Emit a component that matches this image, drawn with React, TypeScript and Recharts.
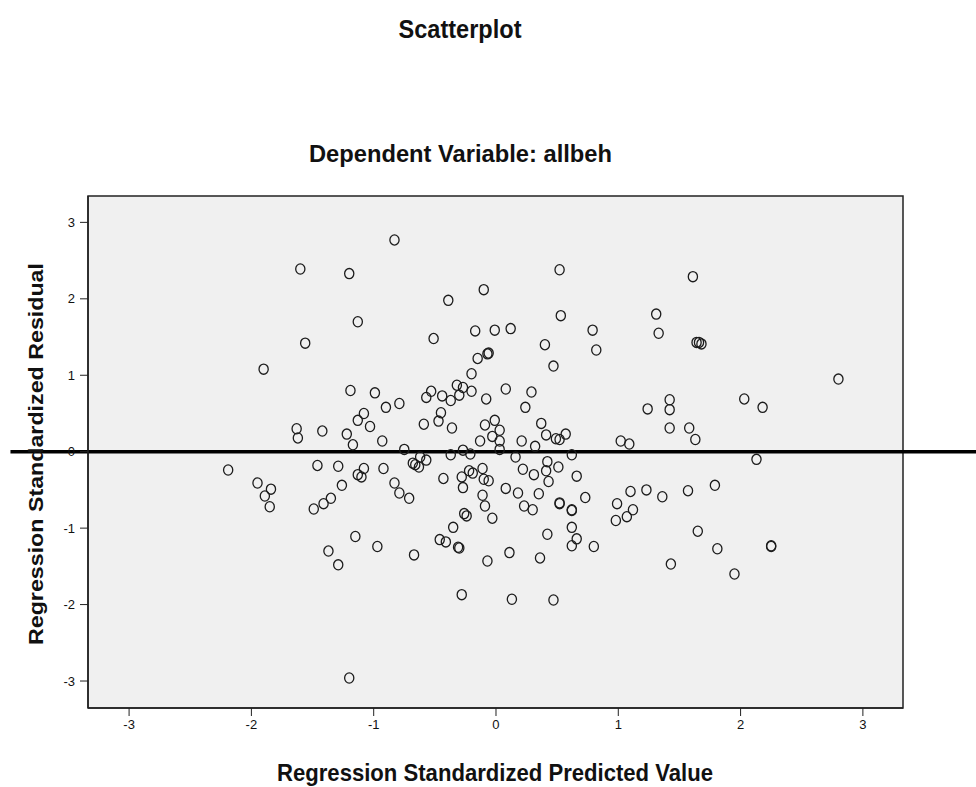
import { ScatterChart, Scatter, XAxis, YAxis, CartesianGrid, ReferenceLine, ReferenceArea } from "recharts"

// regression standardized predicted value (x) and residual (y)
const predicted = [
  -1.6, -1.2, -1.13, -1.56, -1.9, -1.19, -1.08, -1.13, -1.63, -1.62, -1.42, -1.22, -1.17,
  -0.83, 0.52, -0.1, -0.39, 0.53, -0.17, -0.01, 0.12, 0.79, 0.82, -0.51, 0.4, -0.07, -0.06,
  -0.15, 0.47, -0.2, -0.99, -0.79, -0.9, -0.57, -0.53, -0.44, -0.37, -0.32, -0.27, -0.3,
  -0.2, -0.08, 0.08, 0.29, 0.24, -0.45, -0.47, -0.59, -0.36, -1.03, -0.93, -0.75, -0.09,
  -0.01, 0.03, -0.03, 0.03, -0.13, 0.21, 0.37, 0.41, 0.49, 0.52, 0.57, 0.32, 1.02, 1.09,
  1.61, 1.31, 1.33, 1.64, 1.66, 1.68, 2.8, 2.03, 2.18, 1.42, 1.42, 1.24, 1.42, 1.58, 1.63,
  -2.19, -1.95, -1.84, -1.89, -1.85, -1.46, -1.29, -1.13, -1.1, -1.08, -1.26, -1.35, -1.41,
  -1.49, -1.15, -1.37, -1.29, -1.2, -0.62, -0.57, -0.68, -0.63, -0.66, -0.37, -0.27, -0.21,
  0.03, 0.62, 0.16, 0.22, 0.31, 0.42, 0.41, 0.51, 0.43, 0.66, -0.92, -0.83, -0.79, -0.71,
  -0.43, -0.28, -0.27, -0.22, -0.19, -0.11, -0.1, -0.06, -0.11, -0.09, -0.03, 0.08, 0.18,
  0.23, 0.3, 0.35, 0.52, 0.52, 0.62, 0.62, 0.73, 0.62, 0.66, 0.62, 0.8, 0.42, 0.36, 0.11,
  -0.07, -0.26, -0.24, -0.35, -0.46, -0.41, -0.31, -0.3, -0.97, -0.67, -0.28, 0.13, 0.47,
  0.99, 0.98, 1.07, 2.13, 1.1, 1.23, 1.36, 1.57, 1.79, 1.12, 1.65, 1.81, 2.25, 2.25, 1.43,
  1.95,
]
const residual = [
  2.39, 2.33, 1.7, 1.42, 1.08, 0.8, 0.5, 0.41, 0.3, 0.18, 0.27, 0.23, 0.09,
  2.77, 2.38, 2.12, 1.98, 1.78, 1.58, 1.59, 1.61, 1.59, 1.33, 1.48, 1.4, 1.28, 1.29,
  1.22, 1.12, 1.02, 0.77, 0.63, 0.58, 0.71, 0.79, 0.73, 0.67, 0.87, 0.84, 0.74,
  0.79, 0.69, 0.82, 0.78, 0.58, 0.51, 0.4, 0.36, 0.31, 0.33, 0.14, 0.03, 0.35,
  0.41, 0.28, 0.2, 0.14, 0.14, 0.14, 0.37, 0.22, 0.17, 0.16, 0.23, 0.07, 0.14, 0.1,
  2.29, 1.8, 1.55, 1.43, 1.43, 1.41, 0.95, 0.69, 0.58, 0.68, 0.55, 0.56, 0.31, 0.31, 0.16,
  -0.24, -0.41, -0.49, -0.58, -0.72, -0.18, -0.19, -0.3, -0.33, -0.22, -0.44, -0.61, -0.68,
  -0.75, -1.11, -1.3, -1.48, -2.96, -0.07, -0.11, -0.15, -0.2, -0.17, -0.04, 0.02, -0.03,
  0.03, -0.04, -0.07, -0.23, -0.3, -0.13, -0.25, -0.2, -0.39, -0.32, -0.22, -0.41, -0.54, -0.61,
  -0.35, -0.33, -0.47, -0.25, -0.28, -0.22, -0.36, -0.38, -0.57, -0.71, -0.87, -0.48, -0.54,
  -0.71, -0.76, -0.55, -0.67, -0.68, -0.76, -0.77, -0.6, -0.99, -1.14, -1.23, -1.24, -1.08, -1.39, -1.32,
  -1.43, -0.81, -0.84, -0.99, -1.15, -1.18, -1.25, -1.26, -1.24, -1.35, -1.87, -1.93, -1.94,
  -0.68, -0.9, -0.85, -0.1, -0.52, -0.5, -0.59, -0.51, -0.44, -0.76, -1.04, -1.27, -1.23, -1.24, -1.47,
  -1.6,
]
const axisTicks = [-3, -2, -1, 0, 1, 2, 3]
const xDomain = [-3.336, 3.328]
const yDomain = [-3.353, 3.345]
const zeroLine = [-3.97, 4.1]

const points = predicted.map((x, i) => ({ x, y: residual[i] }))

const Ring = (props: any) => {
  if (props.cx == null || props.cy == null) return null
  return <ellipse cx={props.cx} cy={props.cy} rx={4.6} ry={5.1} fill="none" stroke="#1c1c1c" strokeWidth={1.3} />
}

const tickFont = { fontFamily: "'Liberation Sans Narrow', 'Liberation Sans', Arial, sans-serif", fontSize: 13, fill: "#111" }
const labelFont = "'Liberation Sans', Arial, sans-serif"

export default function App() {
  return (
    <div style={{ position: "absolute", left: 0, top: 0, width: 976, height: 787, background: "#fff" }}>
      <ScatterChart width={976} height={787} margin={{ top: 196, right: 73, bottom: 0, left: 0 }}>
        <CartesianGrid fill="#f0f0f0" horizontal={false} vertical={false} />
        <XAxis
          type="number"
          dataKey="x"
          domain={xDomain}
          ticks={axisTicks}
          allowDataOverflow
          height={79}
          tickSize={8}
          tickMargin={4}
          tick={tickFont}
          stroke="#222"
          tickLine={{ stroke: "#222" }}
          axisLine={{ stroke: "#222", strokeWidth: 1.5 }}
        />
        <YAxis
          type="number"
          dataKey="y"
          domain={yDomain}
          ticks={axisTicks}
          allowDataOverflow
          width={88}
          tickSize={8}
          tickMargin={5}
          tick={tickFont}
          stroke="#222"
          tickLine={{ stroke: "#222" }}
          axisLine={{ stroke: "#222", strokeWidth: 1.5 }}
        />
        <ReferenceArea
          x1={xDomain[0]}
          x2={xDomain[1]}
          y1={yDomain[0]}
          y2={yDomain[1]}
          fill="none"
          fillOpacity={0}
          stroke="#222"
          strokeWidth={1.5}
        />
        <Scatter data={points} shape={Ring} isAnimationActive={false} />
        <ReferenceLine
          segment={[{ x: zeroLine[0], y: 0 }, { x: zeroLine[1], y: 0 }]}
          ifOverflow="visible"
          stroke="#000"
          strokeWidth={3.5}
        />
      </ScatterChart>
      <svg width={976} height={787} style={{ position: "absolute", left: 0, top: 0, pointerEvents: "none" }}>
        <text x={460} y={38} textAnchor="middle" fontFamily={labelFont} fontWeight="bold" fontSize={25} textLength={123} lengthAdjust="spacingAndGlyphs" fill="#111">
          Scatterplot
        </text>
        <text x={460.5} y={162} textAnchor="middle" fontFamily={labelFont} fontWeight="bold" fontSize={23} textLength={303} lengthAdjust="spacingAndGlyphs" fill="#111">
          Dependent Variable: allbeh
        </text>
        <text x={495} y={781} textAnchor="middle" fontFamily={labelFont} fontWeight="bold" fontSize={24} textLength={436} lengthAdjust="spacingAndGlyphs" fill="#111">
          Regression Standardized Predicted Value
        </text>
        <text transform="translate(43,454) rotate(-90)" textAnchor="middle" fontFamily={labelFont} fontWeight="bold" fontSize={21} textLength={382} lengthAdjust="spacingAndGlyphs" fill="#111">
          Regression Standardized Residual
        </text>
      </svg>
    </div>
  )
}
